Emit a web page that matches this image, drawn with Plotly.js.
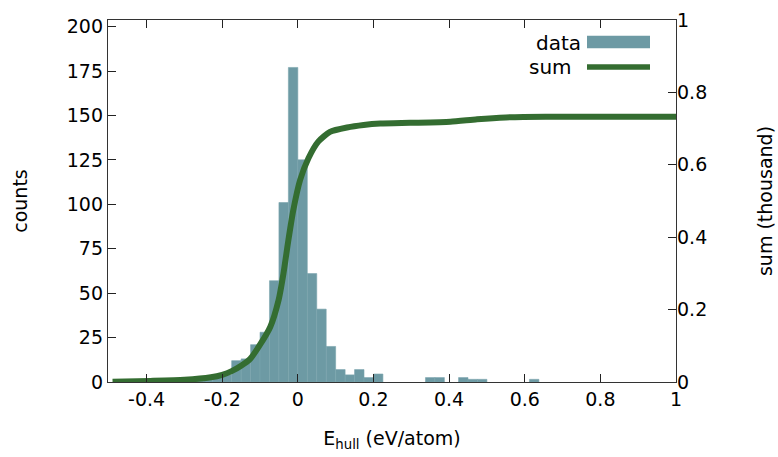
<!DOCTYPE html>
<html>
<head>
<meta charset="utf-8">
<script src="https://cdn.plot.ly/plotly-3.0.1.min.js"></script>
<style>
html,body{margin:0;padding:0;background:#fff;}
#chart{width:778px;height:457px;}
</style>
</head>
<body>
<div id="chart"></div>
<script>
// Histogram bins (centers, eV/atom) and counts
const binCenters = [-0.3125, -0.2875, -0.2625, -0.2375, -0.2125, -0.1875, -0.1625, -0.1375, -0.1125, -0.0875, -0.0625, -0.0375, -0.0125, 0.0125, 0.0375, 0.0625, 0.0875, 0.1125, 0.1375, 0.1625, 0.1875, 0.2125, 0.35, 0.375, 0.4375, 0.4625, 0.4875, 0.625];
const binCounts  = [1, 1, 2, 2, 3, 4, 12, 13, 21, 28, 57, 101, 177, 125, 61, 41, 20, 7, 4, 7, 2.5, 4.5, 2.5, 2.5, 2.5, 1.5, 1.5, 1.5];

// Cumulative sum curve (thousand)
const sumX = [-0.49, -0.39, -0.3, -0.23, -0.2, -0.175, -0.15, -0.126, -0.1, -0.073, -0.051, -0.038, -0.025, -0.012, 0.006, 0.028, 0.054, 0.085, 0.13, 0.174, 0.218, 0.297, 0.403, 0.474, 0.55, 0.655, 1.0];
const sumY = [0.001, 0.003, 0.006, 0.013, 0.02, 0.03, 0.045, 0.064, 0.103, 0.152, 0.226, 0.3, 0.392, 0.475, 0.558, 0.618, 0.664, 0.691, 0.703, 0.71, 0.714, 0.716, 0.719, 0.726, 0.731, 0.733, 0.733];

const xTickVals = [-0.4, -0.2, 0, 0.2, 0.4, 0.6, 0.8, 1];
const xTickText = ['-0.4', '-0.2', '0', '0.2', '0.4', '0.6', '0.8', '1'];
const y2TickVals = [0, 0.2, 0.4, 0.6, 0.8, 1];
const y2TickText = ['0', '0.2', '0.4', '0.6', '0.8', '1'];

const barColor = '#6d9aa4';
const lineColor = '#346d31';
const fontFam = 'DejaVu Sans, sans-serif';
const fs = 19;

const traces = [
  {
    type: 'bar', x: binCenters, y: binCounts, width: 0.025,
    marker: {color: barColor, line: {color: '#7aa4ad', width: 0.6}},
    xaxis: 'x', yaxis: 'y', showlegend: false, hoverinfo: 'skip'
  },
  {
    type: 'scatter', mode: 'lines', x: sumX, y: sumY,
    line: {color: lineColor, width: 6, shape: 'spline', smoothing: 0.6},
    xaxis: 'x', yaxis: 'y2', showlegend: false, hoverinfo: 'skip'
  }
];

const pl = 108, pr = 676, pt = 20, pb = 382;
const px = v => (v - pl) / (pr - pl);
const py = v => (pb - v) / (pb - pt);

const layout = {
  width: 778, height: 457,
  margin: {l: pl, r: 778 - pr, t: pt, b: 457 - pb, pad: 0},
  paper_bgcolor: '#ffffff', plot_bgcolor: '#ffffff',
  font: {family: fontFam, size: fs, color: '#000'},
  bargap: 0,
  showlegend: false,
  xaxis: {
    range: [-0.502, 1], tickvals: xTickVals, ticktext: xTickText,
    ticks: 'inside', ticklen: 8, tickwidth: 1, tickcolor: '#222',
    showline: true, linecolor: '#333', linewidth: 1.2, mirror: 'ticks',
    showgrid: false, zeroline: false,
    tickfont: {family: fontFam, size: fs},
    title: {text: 'E<sub>hull</sub> (eV/atom)', font: {family: fontFam, size: fs}, standoff: 22}
  },
  yaxis: {
    range: [0, 203.7], dtick: 25, tick0: 0,
    ticks: 'inside', ticklen: 8, tickwidth: 1, tickcolor: '#222',
    showline: true, linecolor: '#333', linewidth: 1.2, mirror: true,
    showgrid: false, zeroline: false,
    tickfont: {family: fontFam, size: fs},
    title: {text: 'counts', font: {family: fontFam, size: fs}, standoff: 34}
  },
  yaxis2: {
    range: [0, 1], overlaying: 'y', side: 'right',
    tickvals: y2TickVals, ticktext: y2TickText,
    ticks: 'inside', ticklen: 8, tickwidth: 1, tickcolor: '#222',
    showline: false, showgrid: false, zeroline: false,
    tickfont: {family: fontFam, size: fs},
    title: {text: 'sum (thousand)', font: {family: fontFam, size: fs}, standoff: 52}
  },
  annotations: [
    {xref: 'paper', yref: 'paper', x: px(583), y: py(43), text: 'data', showarrow: false,
     xanchor: 'right', yanchor: 'middle', font: {family: fontFam, size: 20}},
    {xref: 'paper', yref: 'paper', x: px(574), y: py(67), text: 'sum', showarrow: false,
     xanchor: 'right', yanchor: 'middle', font: {family: fontFam, size: 20}}
  ],
  shapes: [
    {type: 'rect', xref: 'paper', yref: 'paper', x0: px(587), x1: px(650), y0: py(48.3), y1: py(35.7),
     fillcolor: barColor, line: {width: 0}},
    {type: 'line', xref: 'paper', yref: 'paper', x0: px(587), x1: px(650), y0: py(67), y1: py(67),
     line: {color: lineColor, width: 5.5}}
  ]
};

Plotly.newPlot('chart', traces, layout, {displayModeBar: false, staticPlot: true});
</script>
</body>
</html>
